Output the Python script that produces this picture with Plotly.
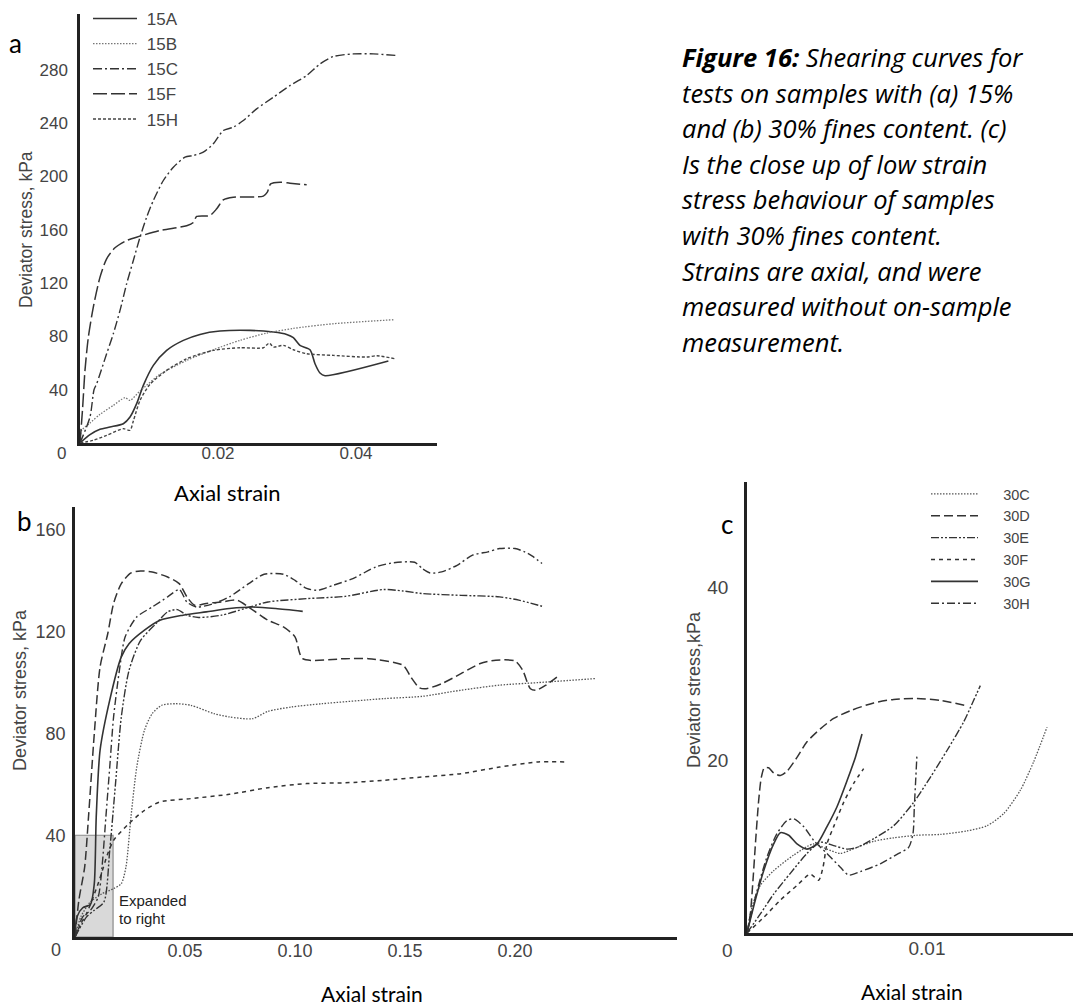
import plotly.graph_objects as go

W, H = 1073, 1007

# ---------------- Panel a : 15% fines ----------------
a_15A_x = [0, 0.00145, 0.0029, 0.00435, 0.00628, 0.00725, 0.00821, 0.00918, 0.01063, 0.01256, 0.01498, 0.01739, 0.02029, 0.02464, 0.02802, 0.02995, 0.03092, 0.03188, 0.03333, 0.03406, 0.03478, 0.03551, 0.04469]
a_15A_y = [0, 6.25, 10.25, 12, 14.5, 19.5, 29.5, 43.25, 58.25, 69.5, 77, 81.5, 84, 84.5, 83.25, 81.5, 79, 73.25, 70, 59.5, 52.5, 50.5, 61.5]

a_15B_x = [0, 0.00024, 0.00145, 0.0029, 0.00483, 0.00652, 0.00725, 0.0087, 0.01159, 0.01546, 0.01932, 0.02319, 0.02705, 0.03092, 0.03671, 0.04541]
a_15B_y = [2, 9.5, 15, 21.5, 28.25, 34, 32, 39, 51.5, 62, 70, 77, 82.5, 86, 89.5, 92.5]

a_15C_x = [0, 0.00145, 0.00203, 0.00242, 0.00386, 0.00483, 0.0058, 0.00676, 0.00773, 0.0087, 0.00966, 0.01063, 0.01208, 0.01353, 0.01522, 0.01643, 0.01787, 0.01932, 0.02077, 0.02222, 0.02367, 0.0256, 0.02802, 0.03043, 0.03285, 0.03478, 0.03671, 0.03961, 0.04251, 0.04614]
a_15C_y = [0, 19.5, 40, 44.5, 67, 82, 99.5, 119.5, 137, 154.5, 169.5, 182, 197, 207, 214.5, 215.75, 218.25, 224.5, 234.5, 237, 242, 250.75, 259.5, 268.25, 275.75, 284.5, 290, 292, 292, 290.75]

a_15F_x = [0, 0.00039, 0.00072, 0.00121, 0.00193, 0.0029, 0.00386, 0.00507, 0.00676, 0.0087, 0.01159, 0.01546, 0.01643, 0.01691, 0.01884, 0.01981, 0.02077, 0.02222, 0.02657, 0.02715, 0.02763, 0.02899, 0.03043, 0.03285]
a_15F_y = [0, 27, 54.5, 79.5, 102, 124.5, 138.25, 146.5, 152, 155.25, 159.5, 163, 165.5, 170, 170.75, 175.75, 182.5, 184.5, 185.25, 188.25, 194.5, 195.75, 195, 193.75]

a_15H_x = [0, 0.00193, 0.00386, 0.00628, 0.00725, 0.00773, 0.0087, 0.01014, 0.01256, 0.01546, 0.01932, 0.02319, 0.02657, 0.02744, 0.02802, 0.02947, 0.03092, 0.03285, 0.03671, 0.04155, 0.043, 0.04565]
a_15H_y = [0, 2, 5.75, 10.75, 9.5, 16.5, 32, 44, 54.5, 63.25, 69.5, 71.5, 71.5, 75, 72, 73.25, 70, 67, 65.75, 64.5, 65.5, 63.25]

# ---------------- Panel b : 30% fines ----------------
b_30C_x = [0, 0.00263, 0.00702, 0.01228, 0.01754, 0.02105, 0.02316, 0.02544, 0.02807, 0.03158, 0.03509, 0.03947, 0.04561, 0.05263, 0.06316, 0.07018, 0.0807, 0.08772, 0.09825, 0.11228, 0.14035, 0.15789, 0.17544, 0.19298, 0.21053, 0.23684]
b_30C_y = [0, 7.9, 13.8, 17, 19, 21, 27.5, 47.2, 66.8, 81.3, 87.8, 91.1, 91.7, 91.1, 87.8, 86.5, 85.8, 88.7, 90.4, 91.7, 93.7, 94.6, 97, 99, 100, 101.6]

b_30D_x = [0, 0.00175, 0.00439, 0.00614, 0.00877, 0.0114, 0.01491, 0.01754, 0.02105, 0.02544, 0.02982, 0.03509, 0.04211, 0.04737, 0.05088, 0.05439, 0.05965, 0.06667, 0.07368, 0.07895, 0.08772, 0.09474, 0.1, 0.10351, 0.12281, 0.13333, 0.14912, 0.15263, 0.15649, 0.15965, 0.16667, 0.17544, 0.18421, 0.19123, 0.2, 0.20351, 0.20702, 0.20965, 0.21404, 0.22018]
b_30D_y = [0, 14.4, 27.5, 47.2, 79.9, 106.2, 119.3, 131.1, 138.9, 143.1, 143.9, 143.5, 141.5, 138.9, 133.7, 130.4, 131.1, 131.7, 132.4, 129.7, 124.5, 121.9, 118, 109.4, 109.4, 109.4, 106.8, 102.2, 98, 97.6, 99.6, 103.5, 107.5, 108.8, 108.5, 104.8, 97.6, 97, 99, 102.9]

b_30E_x = [0, 0.00526, 0.00877, 0.01316, 0.01579, 0.01842, 0.02105, 0.02456, 0.02982, 0.03684, 0.04211, 0.04649, 0.05088, 0.05614, 0.06667, 0.07719, 0.08772, 0.10526, 0.12281, 0.14035, 0.14912, 0.15789, 0.17544, 0.19298, 0.20175, 0.21228]
b_30E_y = [0, 7.9, 10.5, 13.8, 34.1, 60.3, 86.5, 104.8, 116.6, 123.2, 127.8, 128.7, 126.5, 125.6, 126.5, 129.1, 131.7, 133, 133.9, 136.6, 136, 135, 134.3, 133.7, 132.4, 130]

b_30F_x = [0, 0.00263, 0.00526, 0.01053, 0.01491, 0.01754, 0.02456, 0.03158, 0.0386, 0.05263, 0.07018, 0.08772, 0.10526, 0.12281, 0.14035, 0.15789, 0.17544, 0.19298, 0.21053, 0.22281]
b_30F_y = [0, 5.2, 9.2, 21, 32.8, 38, 44.6, 49.8, 53.1, 54.4, 56.1, 58.7, 60.3, 60.6, 61.6, 62.9, 64.2, 66.8, 68.8, 68.8]

b_30G_x = [0, 0.00088, 0.00351, 0.00702, 0.00877, 0.00965, 0.0114, 0.01579, 0.02105, 0.02456, 0.03158, 0.0386, 0.04912, 0.05965, 0.07018, 0.0807, 0.09123, 0.10351]
b_30G_y = [0, 7.9, 11.5, 12.8, 21, 47.2, 73.4, 93.1, 110.1, 115.3, 120.6, 124.5, 126.5, 127.8, 129.1, 129.7, 129.1, 128]

b_30H_x = [0, 0.00351, 0.00702, 0.01053, 0.01228, 0.01404, 0.01579, 0.01754, 0.02018, 0.02281, 0.02807, 0.03509, 0.04211, 0.04737, 0.05088, 0.05526, 0.06316, 0.07018, 0.07895, 0.08596, 0.09474, 0.1, 0.10526, 0.11053, 0.11754, 0.12632, 0.13684, 0.14386, 0.15439, 0.15789, 0.1614, 0.16667, 0.17368, 0.1807, 0.18772, 0.19298, 0.2, 0.20439, 0.20789, 0.21228]
b_30H_y = [0, 7.9, 10.5, 15.7, 27.5, 47.2, 66.8, 86.5, 104.8, 118, 125.8, 129.7, 133.7, 136.6, 131.7, 129.7, 131.1, 133.7, 138.9, 142.6, 142.6, 140.2, 137, 136.3, 138.3, 140.9, 145.5, 147, 147.3, 144.8, 143.1, 143.5, 146.1, 150.1, 151.4, 152.7, 152.7, 151.4, 149.7, 146.8]

expanded_x = 0.0173   # extent of the region blown up in panel c
expanded_y = 40

# ---------------- Panel c : close-up 30% fines ----------------
c_30C_x = [0, 0.000278, 0.000741, 0.001481, 0.002593, 0.003704, 0.004444, 0.005185, 0.006111, 0.007037, 0.008148, 0.009444, 0.010741, 0.012222, 0.013333, 0.014259, 0.015185, 0.015926, 0.016667]
c_30C_y = [0, 3, 5.5, 7.2, 9, 10.3, 9.7, 9.2, 9.9, 10.6, 11, 11.3, 11.4, 11.8, 12.4, 13.8, 16.5, 19.8, 23.8]

c_30D_x = [0, 0.000185, 0.000333, 0.000481, 0.000648, 0.000796, 0.000963, 0.001204, 0.001481, 0.001852, 0.002222, 0.002778, 0.003333, 0.004074, 0.004815, 0.005741, 0.007037, 0.008148, 0.009444, 0.010741, 0.01213]
c_30D_y = [0, 2.2, 6.1, 10.7, 15.3, 18, 19.1, 19.1, 18.5, 18.2, 18.7, 20.3, 22.1, 23.6, 24.8, 25.7, 26.6, 27, 27.1, 26.9, 26.3]

c_30E_x = [0, 0.000741, 0.001481, 0.002407, 0.003333, 0.004074, 0.004815, 0.005556, 0.006111, 0.007037, 0.008148, 0.009259, 0.010185, 0.011111, 0.012037, 0.012593, 0.012963]
c_30E_y = [0, 2.2, 4.5, 6.9, 9.2, 10.5, 10.1, 9.7, 9.9, 10.9, 12.4, 15.1, 18, 21.1, 24.4, 26.9, 28.6]

c_30F_x = [0, 0.000926, 0.001852, 0.002778, 0.003519, 0.003981, 0.004222, 0.004444, 0.004815, 0.00537, 0.005926, 0.006481]
c_30F_y = [0, 1.8, 3.8, 5.5, 6.8, 6.1, 7.6, 10.3, 12.3, 15.1, 17.3, 19]

c_30G_x = [0, 0.000463, 0.000926, 0.001481, 0.001852, 0.002315, 0.002778, 0.003333, 0.003889, 0.004444, 0.005, 0.005556, 0.006019, 0.006389]
c_30G_y = [0, 3.8, 7.2, 10.3, 11.6, 11.3, 10.3, 9.7, 10.3, 12.3, 14.6, 17.6, 20.3, 23]

c_30H_x = [0, 0.000556, 0.001111, 0.001667, 0.002222, 0.002593, 0.003148, 0.003704, 0.004444, 0.005185, 0.005648, 0.006296, 0.007407, 0.008333, 0.008981, 0.009222, 0.009296, 0.00937, 0.009444]
c_30H_y = [0, 4.9, 8.8, 11.5, 13, 13.2, 12.3, 10.7, 9.2, 7.6, 6.7, 7.1, 8, 9.1, 9.9, 11.5, 14.6, 17.6, 20.7]

a_xticks = [0.02, 0.04]
a_xlabels = ["0.02", "0.04"]
a_yticks = [40, 80, 120, 160, 200, 240, 280]
b_xticks = [0.05, 0.10, 0.15, 0.20]
b_xlabels = ["0.05", "0.10", "0.15", "0.20"]
b_yticks = [40, 80, 120, 160]
c_xticks = [0.01]
c_xlabels = ["0.01"]
c_yticks = [20, 40]

caption_lines = [
    "<b><i>Figure 16:</i></b><i> Shearing curves for</i>",
    "<i>tests on samples with (a) 15%</i>",
    "<i>and (b) 30% fines content. (c)</i>",
    "<i>Is the close up of low strain</i>",
    "<i>stress behaviour of samples</i>",
    "<i>with 30% fines content.</i>",
    "<i>Strains are axial, and were</i>",
    "<i>measured without on-sample</i>",
    "<i>measurement.</i>",
]

# ---------------- styles ----------------
SANS = "Liberation Sans, Arial, sans-serif"
CAL = "Lato, Open Sans, sans-serif"
CAP = "Open Sans, Lato, sans-serif"
TICKC = "#444444"
LC = "#333333"

styles = {
    "A": dict(dash="solid", color=LC, width=1.6),
    "B": dict(dash="1.5px,1.5px", color="#777777", width=1.3),
    "C": dict(dash="9px,3px,2px,3px", color=LC, width=1.4),
    "F": dict(dash="14px,4px", color=LC, width=1.5),
    "H": dict(dash="3px,2px", color="#444444", width=1.4),
}
styles30 = {
    "C": dict(dash="1.5px,1.5px", color="#555555", width=1.3),
    "D": dict(dash="9px,4px", color=LC, width=1.5),
    "E": dict(dash="8px,2px,2px,2px,2px,2px", color=LC, width=1.4),
    "F": dict(dash="4px,4px", color=LC, width=1.5),
    "G": dict(dash="solid", color=LC, width=1.6),
    "H": dict(dash="8px,3px,2px,3px", color=LC, width=1.4),
}

fig = go.Figure()

# gray expanded region in panel b
fig.add_shape(type="rect", xref="x2", yref="y2", x0=0, x1=expanded_x, y0=0, y1=expanded_y,
              fillcolor="#d9d9d9", line=dict(color="#8a8a8a", width=1.2), layer="below")

SM = 0.7
NA = "\u00a0"
a_series = [("15A", a_15A_x, a_15A_y, "A"), ("15B", a_15B_x, a_15B_y, "B"),
            ("15C", a_15C_x, a_15C_y, "C"), ("15F", a_15F_x, a_15F_y, "F"),
            ("15H", a_15H_x, a_15H_y, "H")]
for name, xs, ys, k in a_series:
    fig.add_trace(go.Scatter(x=xs, y=ys, mode="lines", name=NA + name, xaxis="x", yaxis="y",
                             line=dict(shape="spline", smoothing=SM, **styles[k]), legend="legend"))

b_series = [("30C", b_30C_x, b_30C_y, "C"), ("30D", b_30D_x, b_30D_y, "D"),
            ("30E", b_30E_x, b_30E_y, "E"), ("30F", b_30F_x, b_30F_y, "F"),
            ("30G", b_30G_x, b_30G_y, "G"), ("30H", b_30H_x, b_30H_y, "H")]
for name, xs, ys, k in b_series:
    fig.add_trace(go.Scatter(x=xs, y=ys, mode="lines", name=name, xaxis="x2", yaxis="y2",
                             showlegend=False,
                             line=dict(shape="spline", smoothing=SM, **styles30[k])))

NB = NA * 5
c_series = [("30C", c_30C_x, c_30C_y, "C"), ("30D", c_30D_x, c_30D_y, "D"),
            ("30E", c_30E_x, c_30E_y, "E"), ("30F", c_30F_x, c_30F_y, "F"),
            ("30G", c_30G_x, c_30G_y, "G"), ("30H", c_30H_x, c_30H_y, "H")]
for name, xs, ys, k in c_series:
    fig.add_trace(go.Scatter(x=xs, y=ys, mode="lines", name=NB + name, xaxis="x3", yaxis="y3",
                             line=dict(shape="spline", smoothing=SM, **styles30[k]), legend="legend2"))


def px_x(p):
    return p / W


def px_y(p):
    return 1 - p / H


def xax(domain, rng, ticks, labels, fs, standoff, anchor):
    return dict(domain=domain, range=rng, tickvals=ticks, ticktext=labels, anchor=anchor,
                showline=True, linecolor="#222222", linewidth=2.5, showgrid=False, zeroline=False,
                ticks="", tickfont=dict(family=SANS, size=fs, color=TICKC), ticklabelstandoff=standoff,
                fixedrange=True)


def yax(domain, rng, ticks, fs, standoff, anchor):
    return dict(domain=domain, range=rng, tickvals=ticks, ticktext=[str(t) for t in ticks],
                showline=True, linecolor="#222222", linewidth=2.5, showgrid=False, zeroline=False,
                ticks="", tickfont=dict(family=SANS, size=fs, color=TICKC), ticklabelstandoff=standoff,
                anchor=anchor, fixedrange=True)


fig.update_layout(
    width=W, height=H, margin=dict(l=0, r=0, t=0, b=0),
    paper_bgcolor="white", plot_bgcolor="white",
    xaxis=xax([px_x(80), px_x(437)], [0, 357 / 6900], a_xticks, a_xlabels, 17, -7, "y"),
    yaxis=yax([px_y(443), px_y(14)], [0, 429 / 1.3325], a_yticks, 17, 6, "x"),
    xaxis2=xax([px_x(75), px_x(677)], [0, 602 / 2200], b_xticks, b_xlabels, 18, -4, "y2"),
    yaxis2=yax([px_y(937), px_y(507)], [0, 430 / 2.544], b_yticks, 18, 3, "x2"),
    xaxis3=xax([px_x(747), 1.0], [0, 326 / 18000], c_xticks, c_xlabels, 19, -4, "y3"),
    yaxis3=yax([px_y(933), px_y(482)], [0, 451 / 8.65], c_yticks, 19, 12, "x3"),
    legend=dict(x=px_x(88), y=px_y(1), xanchor="left", yanchor="top", bgcolor="rgba(0,0,0,0)",
                font=dict(family=SANS, size=17, color=TICKC), itemwidth=44, tracegroupgap=0,
                borderwidth=0),
    legend2=dict(x=px_x(926), y=px_y(478), xanchor="left", yanchor="top", bgcolor="rgba(0,0,0,0)",
                 font=dict(family=SANS, size=14.5, color=TICKC), itemwidth=47, tracegroupgap=0,
                 borderwidth=0),
    showlegend=True,
)

ann = []


def text(x, y, s, size, family=SANS, color=TICKC, angle=0, xanchor="center", yanchor="middle"):
    ann.append(dict(x=px_x(x), y=px_y(y), xref="paper", yref="paper", text=s, showarrow=False,
                    font=dict(family=family, size=size, color=color), textangle=angle,
                    xanchor=xanchor, yanchor=yanchor))


# corner zero labels
text(61, 453, "0", 17)
text(56, 950, "0", 18)
text(727, 950, "0", 19)
# panel letters
text(15, 43, "a", 26, CAL, "#000000")
text(24, 521, "b", 26, CAL, "#000000")
text(727, 524, "c", 26, CAL, "#000000")
# axis titles
text(26, 230, "Deviator stress, kPa", 17.5, angle=-90)
text(20, 690, "Deviator stress, kPa", 18, angle=-90)
text(694, 690, "Deviator stress,kPa", 18, angle=-90)
text(227, 492, "Axial strain", 22, CAL, "#000000")
text(372, 993, "Axial strain", 21, CAL, "#000000")
text(912, 991, "Axial strain", 21, CAL, "#000000")
# expanded note
text(117, 900, "Expanded", 15, color="#222222", xanchor="left")
text(117, 918, "to right", 15, color="#222222", xanchor="left")
# caption
for i, line in enumerate(caption_lines):
    text(680, 57 + i * 35.6, line, 25.5, CAP, "#000000", xanchor="left")

fig.update_layout(annotations=ann)
fig.write_html("out.html")
